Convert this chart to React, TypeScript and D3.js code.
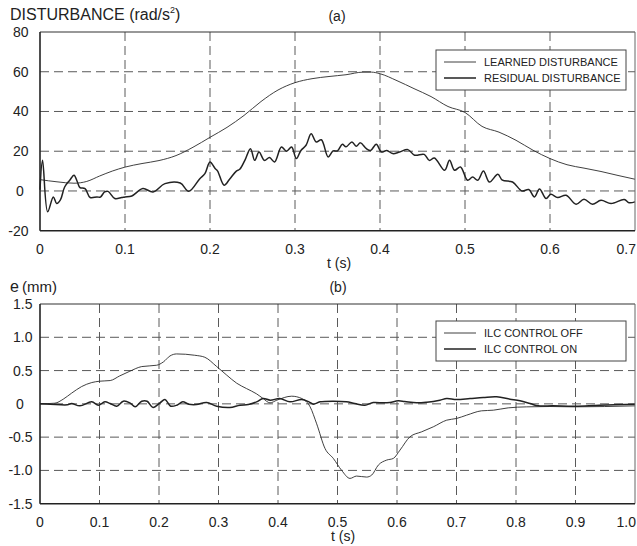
import React from 'react';
import * as d3 from 'd3';

// (a) disturbance, rad/s^2
const learnedT = [0, 0.02, 0.04, 0.055, 0.07, 0.085, 0.1, 0.12, 0.14, 0.16, 0.18, 0.2, 0.22, 0.24, 0.26, 0.28, 0.3, 0.32, 0.34, 0.36, 0.38, 0.39, 0.4, 0.42, 0.44, 0.46, 0.48, 0.5, 0.52, 0.54, 0.56, 0.58, 0.6, 0.62, 0.64, 0.66, 0.68, 0.7];
const learnedV = [5.7, 4.6, 3.9, 4.8, 7.5, 10, 12, 13.8, 15.3, 17.8, 22, 27, 32, 38, 45, 50.8, 54.5, 56.5, 57.6, 58.5, 59.8, 59.8, 59, 55.5, 51.5, 47.5, 42.5, 39.5, 32.5, 29.6, 25.5, 20.5, 16.3, 13.2, 11.5, 9.8, 7.8, 5.9];

const residualT = [0, 0.003, 0.009, 0.0157, 0.0196, 0.024, 0.029, 0.035, 0.04, 0.044, 0.047, 0.053, 0.059, 0.067, 0.071, 0.076, 0.08, 0.088, 0.096, 0.1, 0.108, 0.121, 0.133, 0.147, 0.165, 0.175, 0.188, 0.194, 0.2, 0.206, 0.209, 0.2166, 0.223, 0.231, 0.235, 0.241, 0.2476, 0.2526, 0.2577, 0.264, 0.27, 0.276, 0.284, 0.29, 0.296, 0.3016, 0.307, 0.313, 0.319, 0.325, 0.331, 0.339, 0.3447, 0.35, 0.3557, 0.36, 0.367, 0.372, 0.377, 0.384, 0.389, 0.3956, 0.4016, 0.408, 0.415, 0.423, 0.4328, 0.4407, 0.452, 0.458, 0.464, 0.476, 0.4818, 0.4877, 0.4947, 0.503, 0.509, 0.515, 0.5217, 0.5288, 0.5386, 0.544, 0.556, 0.567, 0.575, 0.5817, 0.5876, 0.5954, 0.601, 0.609, 0.619, 0.6307, 0.64, 0.65, 0.66, 0.6718, 0.6874, 0.693, 0.7];
const residualV = [0.6, 15.4, -10.5, -3, -6.3, -4.5, 2, 5.4, 7.9, 4.5, 1.7, 1.2, -3.3, -3, -3.1, -0.5, -0.2, -3.8, -3.3, -3, -2.5, 1.2, -0.5, 3.7, 4, -0.2, 6.2, 8.7, 14.6, 11.3, 10, 2.9, 5.9, 10, 10.9, 15.4, 21.3, 15.4, 19.6, 15.4, 16.8, 14.6, 22.1, 20, 22.1, 16.3, 20.4, 23, 28.8, 24.6, 25.8, 17.1, 20.1, 20.2, 23.5, 22.2, 24.7, 22.5, 24.2, 21.3, 20.4, 23.5, 19.6, 20.4, 18.8, 19.6, 20.8, 18, 18.4, 15.4, 16.6, 10.4, 15.4, 10.4, 12.1, 5.4, 7, 5.4, 10, 4.5, 8.4, 5.4, 4.5, 0, 0.7, -3, 1, -3.8, -1.7, -3.3, -2.2, -6.7, -4.2, -6.7, -4.7, -6.3, -4.3, -5.9, -5.5];

// (b) tracking error, mm
const offT = [0, 0.025, 0.039, 0.053, 0.07, 0.087, 0.1, 0.118, 0.134, 0.151, 0.171, 0.196, 0.2074, 0.2185, 0.2297, 0.26, 0.277, 0.297, 0.314, 0.3306, 0.347, 0.364, 0.375, 0.3866, 0.398, 0.423, 0.44, 0.454, 0.465, 0.479, 0.493, 0.507, 0.521, 0.532, 0.549, 0.5575, 0.5686, 0.5826, 0.5938, 0.605, 0.6218, 0.6415, 0.661, 0.6835, 0.7, 0.717, 0.742, 0.762, 0.787, 0.818, 0.857, 0.897, 1.0];
const offV = [0, 0.01, 0.07, 0.16, 0.26, 0.32, 0.34, 0.35, 0.42, 0.49, 0.56, 0.58, 0.63, 0.72, 0.75, 0.73, 0.7, 0.56, 0.43, 0.31, 0.23, 0.15, 0.08, 0.015, 0.055, 0.115, 0.08, -0.045, -0.3, -0.67, -0.82, -1.0, -1.12, -1.085, -1.1, -1.07, -0.92, -0.845, -0.82, -0.695, -0.495, -0.42, -0.345, -0.245, -0.22, -0.17, -0.105, -0.095, -0.06, -0.045, -0.04, -0.045, -0.03];

const onT = [0, 0.017, 0.046, 0.053, 0.067, 0.087, 0.098, 0.109, 0.118, 0.129, 0.14, 0.151, 0.16, 0.171, 0.18, 0.19, 0.2017, 0.21, 0.2196, 0.23, 0.24, 0.25, 0.263, 0.28, 0.297, 0.319, 0.336, 0.35, 0.364, 0.375, 0.387, 0.403, 0.42, 0.44, 0.452, 0.4594, 0.4706, 0.493, 0.515, 0.529, 0.546, 0.56, 0.577, 0.588, 0.602, 0.613, 0.633, 0.65, 0.672, 0.6835, 0.7, 0.7227, 0.745, 0.7675, 0.79, 0.8067, 0.8235, 0.8375, 0.862, 0.9, 0.94, 1.0];
const onV = [0, -0.005, -0.015, 0.005, -0.03, 0.03, -0.02, 0.03, 0.005, -0.035, 0.04, 0.015, -0.045, 0.04, 0.04, -0.055, 0.015, 0.065, -0.035, -0.02, 0.03, -0.005, -0.01, 0.02, -0.035, -0.055, -0.02, -0.01, 0.03, 0.08, 0.055, 0.08, 0.03, 0.065, 0.03, -0.005, 0.03, 0.04, 0.03, 0.005, -0.02, 0.02, 0.015, 0.02, 0.045, 0.035, 0.015, 0.025, 0.055, 0.08, 0.065, 0.08, 0.095, 0.105, 0.07, 0.045, 0.005, -0.03, -0.03, -0.035, -0.02, -0.005];

const xTicksA = [0, 0.1, 0.2, 0.3, 0.4, 0.5, 0.6, 0.7];
const xLabelsA = ['0', '0.1', '0.2', '0.3', '0.4', '0.5', '0.6', '0.7'];
const yTicksA = [80, 60, 40, 20, 0, -20];
const yLabelsA = ['80', '60', '40', '20', '0', '-20'];

const xTicksB = [0, 0.1, 0.2, 0.3, 0.4, 0.5, 0.6, 0.7, 0.8, 0.9, 1.0];
const xLabelsB = ['0', '0.1', '0.2', '0.3', '0.4', '0.5', '0.6', '0.7', '0.8', '0.9', '1.0'];
const yTicksB = [1.5, 1.0, 0.5, 0, -0.5, -1.0, -1.5];
const yLabelsB = ['1.5', '1.0', '0.5', '0', '-0.5', '-1.0', '-1.5'];

const FONT = '"Liberation Sans", Arial, Helvetica, sans-serif';
const GRID = '#5a5a5a';

type Pt = [number, number];
const zip = (t: number[], v: number[]): Pt[] => t.map((d, i) => [d, v[i]]);

function Panel(props: {
  top: number; bottom: number; xMax: number; yMin: number; yMax: number;
  xTicks: number[]; xLabels: string[]; yTicks: number[]; yLabels: string[];
  yLabelRight: number; thin: Pt[]; thick: Pt[]; legend: string[];
  legendTop: number;
}) {
  const { top, bottom, xMax, yMin, yMax, xTicks, xLabels, yTicks, yLabels } = props;
  const left = 40, right = 635;
  const x = d3.scaleLinear().domain([0, xMax]).range([left, right]);
  const y = d3.scaleLinear().domain([yMin, yMax]).range([bottom, top]);
  const smooth = d3.line<Pt>().x(d => x(d[0])).y(d => y(d[1])).curve(d3.curveMonotoneX);
  const wiggle = d3.line<Pt>().x(d => x(d[0])).y(d => y(d[1])).curve(d3.curveCatmullRom.alpha(0.5));

  const lg = props.legendTop;
  return (
    <g>
      {xTicks.slice(1, -1).map(t => (
        <line key={'gx' + t} x1={x(t)} x2={x(t)} y1={top} y2={bottom} stroke={GRID} strokeDasharray="9,5" strokeWidth={1} />
      ))}
      {yTicks.slice(1, -1).map(t => (
        <line key={'gy' + t} x1={left} x2={right} y1={y(t)} y2={y(t)} stroke={GRID} strokeDasharray="9,5" strokeWidth={1} />
      ))}
      <path d={smooth(props.thin) || ''} fill="none" stroke="#2a2a2a" strokeWidth={0.9} />
      <path d={wiggle(props.thick) || ''} fill="none" stroke="#222" strokeWidth={1.5} strokeLinejoin="round" />
      <line x1={left} x2={right} y1={top} y2={top} stroke="#333" strokeWidth={1.2} />
      <line x1={right} x2={right} y1={top} y2={bottom} stroke="#666" strokeWidth={1} />
      <line x1={left} x2={left} y1={top} y2={bottom} stroke="#222" strokeWidth={1.6} />
      <line x1={left} x2={right} y1={bottom} y2={bottom} stroke="#222" strokeWidth={1.6} />
      {yTicks.map((t, i) => (
        <text key={'ly' + t} x={yLabels[i] === '0' ? 20 : props.yLabelRight} y={y(t) + 5}
          textAnchor={yLabels[i] === '0' ? 'middle' : 'end'} fontSize={14} fill="#222">{yLabels[i]}</text>
      ))}
      {xTicks.map((t, i) => {
        const last = i === xTicks.length - 1;
        return (
          <text key={'lx' + t} x={last ? 636 : x(t)} y={bottom + 23} textAnchor={last ? 'end' : 'middle'} fontSize={14} fill="#222">{xLabels[i]}</text>
        );
      })}
      <rect x={436} y={lg} width={190} height={40} fill="#fff" stroke="#444" strokeWidth={1} />
      <line x1={444} x2={476} y1={lg + 12} y2={lg + 12} stroke="#2a2a2a" strokeWidth={0.9} />
      <line x1={444} x2={476} y1={lg + 28} y2={lg + 28} stroke="#222" strokeWidth={1.5} />
      <text x={484} y={lg + 16} fontSize={11} fill="#222">{props.legend[0]}</text>
      <text x={484} y={lg + 32} fontSize={11} fill="#222">{props.legend[1]}</text>
    </g>
  );
}

export default function App() {
  return (
    <svg width={637} height={546} style={{ position: 'absolute', left: 0, top: 0, background: '#fff' }} fontFamily={FONT}>
      <text x={10} y={20} fontSize={16} fill="#222">
        DISTURBANCE (rad/s<tspan fontSize={9} dy={-7}>2</tspan><tspan dy={7}>)</tspan>
      </text>
      <text x={337} y={21} fontSize={14} textAnchor="middle" fill="#222">(a)</text>
      <Panel top={32} bottom={230.7} xMax={0.7} yMin={-20} yMax={80}
        xTicks={xTicksA} xLabels={xLabelsA} yTicks={yTicksA} yLabels={yLabelsA} yLabelRight={28.5}
        thin={zip(learnedT, learnedV)} thick={zip(residualT, residualV)}
        legend={['LEARNED DISTURBANCE', 'RESIDUAL DISTURBANCE']} legendTop={50} />
      <text x={339} y={268} fontSize={14} textAnchor="middle" fill="#222">t (s)</text>

      <text x={10} y={292} fontSize={16} fill="#222">e<tspan fontSize={15} dx={3}>(mm)</tspan></text>
      <text x={338} y={292} fontSize={14} textAnchor="middle" fill="#222">(b)</text>
      <Panel top={304} bottom={503.7} xMax={1.0} yMin={-1.5} yMax={1.5}
        xTicks={xTicksB} xLabels={xLabelsB} yTicks={yTicksB} yLabels={yLabelsB} yLabelRight={32.5}
        thin={zip(offT, offV)} thick={zip(onT, onV)}
        legend={['ILC CONTROL OFF', 'ILC CONTROL ON']} legendTop={321} />
      <text x={343} y={541} fontSize={14} textAnchor="middle" fill="#222">t (s)</text>
    </svg>
  );
}
